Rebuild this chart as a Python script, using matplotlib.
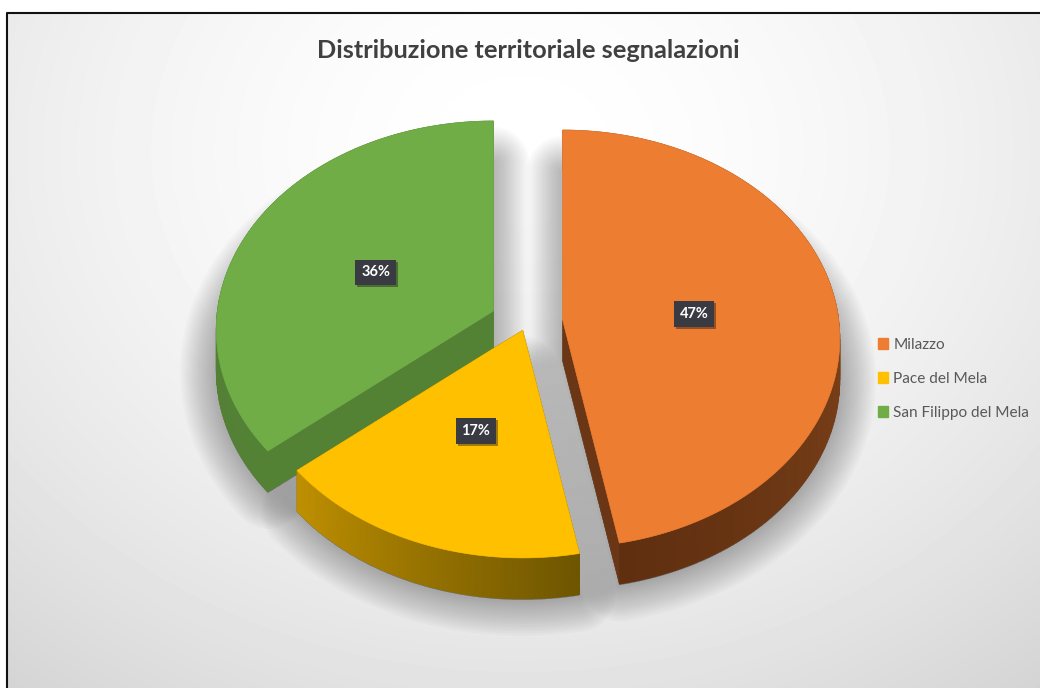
# exploded 3D style pie of the reports per town

import matplotlib
matplotlib.use("Agg")
import matplotlib.pyplot as plt
import matplotlib.patheffects as pe
from matplotlib.colors import to_rgb
from matplotlib.patches import Patch
import numpy as np

plt.rcParams["font.family"] = ["Lato", "DejaVu Sans"]

title = "Distribuzione territoriale segnalazioni"
towns = ["Milazzo", "Pace del Mela", "San Filippo del Mela"]
shares = [47, 17, 36]
explode = [0.132, 0.04, 0.132]

top_colors = ["#ed7d31", "#ffc000", "#70ad47"]
side_start = ["#9c5523", "#6e5500", "#548235"]
side_end = ["#5f2f10", "#c09000", "#4f7c32"]
radial_colors = ["#6a3615", "#6e5500", "#548235"]

# pie geometry in pixels
cx, cy = 526.4, 322.6
rx, ry = 276, 207
persp = 0.09
depth = 41


def project(u, v, ox, oy):
    # flat pie coordinates to the tilted view
    k = 1 + persp * v
    return ox + rx * u / k, oy - ry * v / k


fig = plt.figure(figsize=(10.4, 6.88), dpi=100)
ax = fig.add_axes([0, 0, 1, 1])
ax.set_xlim(0, 1040)
ax.set_ylim(688, 0)
ax.axis("off")

# grey background, white around the top middle
gx, gy = np.meshgrid(np.arange(8, 1040), np.arange(13, 688))
dist = np.sqrt((gx - 520) ** 2 + ((gy - 150) * 1.2) ** 2) / 829
ax.imshow(1 - 0.17 * dist ** 1.7, cmap="gray", vmin=0, vmax=1, extent=(8, 1040, 688, 13),
          aspect="auto", zorder=0)
ax.plot([7, 7, 1040], [688, 12.5, 12.5], color="#111111", lw=1.5, zorder=1)

# work out the slices
order = [2, 0, 1]  # back to front
total = sum(shares)
starts = np.cumsum([0] + shares[:-1]) / total * 2 * np.pi
ends = np.cumsum(shares) / total * 2 * np.pi
slices = []
for i in range(len(shares)):
    mid = (starts[i] + ends[i]) / 2
    ox = cx + rx * explode[i] * np.sin(mid)
    oy = cy - ry * explode[i] * np.cos(mid)
    th = np.linspace(starts[i], ends[i], 120)
    ax_, ay_ = project(np.sin(th), np.cos(th), ox, oy)
    slices.append((ox, oy, th, ax_, ay_, mid))

# soft shadow
for ox, oy, th, px, py, mid in slices:
    sx = np.r_[ox, px]
    sy = np.r_[oy, py] + 42
    for w in np.linspace(52, 1, 16):
        ax.fill(sx, sy, facecolor="black", edgecolor="black", alpha=0.02, lw=w,
                joinstyle="round", zorder=2)

# sides then top of each slice
z = 3
for i in order:
    ox, oy, th, px, py, mid = slices[i]
    for tip_x, tip_y in [(px[0], py[0]), (px[-1], py[-1])]:
        ax.fill([ox, tip_x, tip_x, ox], [oy, tip_y, tip_y + depth, oy + depth],
                color=radial_colors[i], lw=0.5, zorder=z)
    c0, c1 = np.array(to_rgb(side_start[i])), np.array(to_rgb(side_end[i]))
    for j in range(len(th) - 1):
        col = c0 + (c1 - c0) * j / (len(th) - 2)
        ax.fill([px[j], px[j + 1], px[j + 1], px[j]],
                [py[j], py[j + 1], py[j + 1] + depth, py[j] + depth],
                color=col, lw=0.6, zorder=z)
    ax.fill(np.r_[ox, px], np.r_[oy, py], color=top_colors[i], lw=0.5, zorder=z + 1)

    # percent label
    lx, ly = project(0.48 * np.sin(mid), 0.48 * np.cos(mid), ox, oy)
    t = ax.text(lx, ly + 3, f"{shares[i]}%", color="white", fontsize=10.5, fontweight="bold",
                ha="center", va="center", zorder=10,
                bbox=dict(boxstyle="square,pad=0.4", fc="#3a3a42", ec="none"))
    t.get_bbox_patch().set_path_effects([pe.SimplePatchShadow(offset=(1.5, -1.5), alpha=0.4),
                                         pe.Normal()])
    z += 2

ax.text(528, 50, title, color="#404040", fontsize=18.3, fontweight="bold", ha="center", va="center")

handles = [Patch(color=c, label=n) for c, n in zip(top_colors, towns)]
ax.legend(handles=handles, loc="center left", bbox_to_anchor=(878 / 1040, 1 - 379 / 688),
          frameon=False, fontsize=11.1, labelcolor="#595959", handlelength=0.65, handleheight=0.7,
          handletextpad=0.35, labelspacing=1.3, borderpad=0, borderaxespad=0)

fig.savefig("out.png", dpi=100)
